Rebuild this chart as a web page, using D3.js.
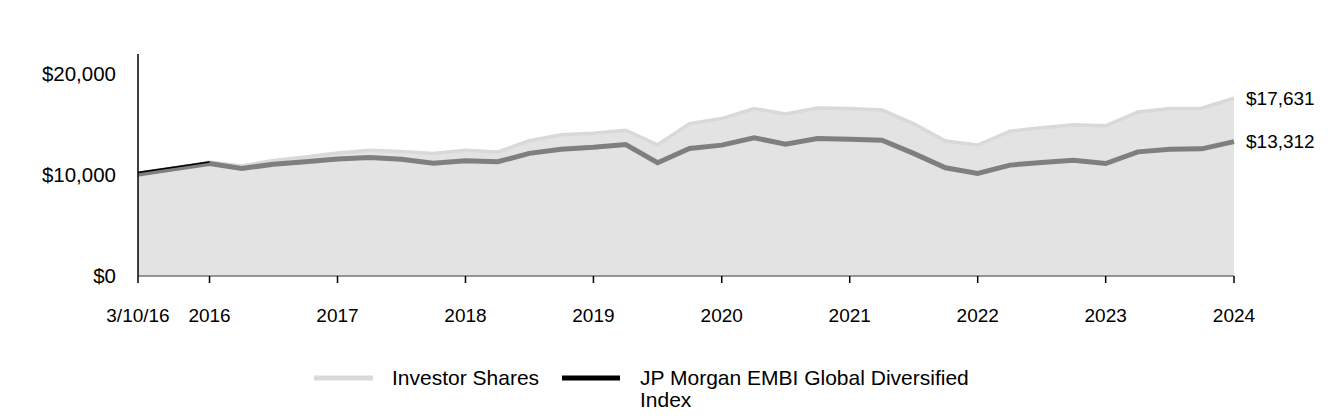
<!DOCTYPE html>
<html>
<head>
<meta charset="utf-8">
<script src="https://cdn.jsdelivr.net/npm/d3@7"></script>
<style>
  html, body { margin: 0; padding: 0; background: #fff; }
  svg { display: block; font-family: "Liberation Sans", Arial, sans-serif; }
</style>
</head>
<body>
<svg id="chart" width="1344" height="420"></svg>
<script>
// ---- data ----
const dates = ["2016-03-10","2016-09-30","2016-12-31","2017-03-31","2017-06-30","2017-09-30",
  "2017-12-31","2018-03-31","2018-06-30","2018-09-30","2018-12-31","2019-03-31","2019-06-30",
  "2019-09-30","2019-12-31","2020-03-31","2020-06-30","2020-09-30","2020-12-31","2021-03-31",
  "2021-06-30","2021-09-30","2021-12-31","2022-03-31","2022-06-30","2022-09-30","2022-12-31",
  "2023-03-31","2023-06-30","2023-09-30","2023-12-31","2024-03-31","2024-06-30","2024-09-30"];
const investorShares = [9900,11300,10900,11450,11800,12200,12450,12350,12150,12450,12300,13400,14000,
  14150,14450,13000,15100,15600,16600,16050,16650,16600,16450,15100,13370,12980,14350,
  14700,15000,14880,16250,16600,16620,17631];
const indexValues = [10100,11150,10650,11080,11320,11600,11750,11580,11170,11410,11320,12150,12570,
  12750,13030,11220,12640,12970,13700,13070,13620,13540,13460,12150,10720,10170,10990,
  11250,11480,11150,12300,12560,12600,13312];
const tickDates = ["2016-03-10","2016-09-30","2017-09-30","2018-09-30","2019-09-30","2020-09-30",
  "2021-09-30","2022-09-30","2023-09-30","2024-09-30"];
const tickLabels = ["3/10/16","2016","2017","2018","2019","2020","2021","2022","2023","2024"];
const yTicks = [0, 10000, 20000];
const seriesNames = ["Investor Shares", "JP Morgan EMBI Global Diversified Index"];
const endLabels = ["$17,631", "$13,312"];

// ---- layout ----
const svg = d3.select("#chart");
const parse = d3.timeParse("%Y-%m-%d");
const xDates = dates.map(parse);
const margin = {left: 138, right: 110, top: 54, bottom: 144};
const W = 1344, H = 420;

const x = d3.scaleTime()
  .domain([xDates[0], xDates[xDates.length - 1]])
  .range([margin.left, W - margin.right]);
const y = d3.scaleLinear().domain([0, 22000]).range([H - margin.bottom, margin.top]);

const inv = xDates.map((d, i) => ({d, v: investorShares[i]}));
const idx = xDates.map((d, i) => ({d, v: indexValues[i]}));

// area for investor shares
svg.append("path")
  .datum(inv)
  .attr("fill", "#e3e3e3")
  .attr("d", d3.area().x(p => x(p.d)).y0(y(0)).y1(p => y(p.v)));

svg.append("path")
  .datum(inv)
  .attr("fill", "none")
  .attr("stroke", "#d9d9d9")
  .attr("stroke-width", 3.5)
  .attr("d", d3.line().x(p => x(p.d)).y(p => y(p.v)));

// index line
svg.append("path")
  .datum(idx)
  .attr("fill", "none")
  .attr("stroke", "#7f7f7f")
  .attr("stroke-width", 5)
  .attr("d", d3.line().x(p => x(p.d)).y(p => y(p.v)));

// thin black start segment of index
svg.append("path")
  .datum(idx.slice(0, 2))
  .attr("fill", "none")
  .attr("stroke", "#000")
  .attr("stroke-width", 1.5)
  .attr("transform", "translate(0,-1.5)")
  .attr("d", d3.line().x(p => x(p.d)).y(p => y(p.v)));

// x axis
const xAxis = svg.append("g").attr("transform", `translate(0,${y(0)})`);
xAxis.append("line")
  .attr("x1", x(xDates[0])).attr("x2", x(xDates[xDates.length - 1]))
  .attr("stroke", "#767676").attr("stroke-width", 1.5);
xAxis.selectAll(".tick")
  .data(tickDates.map(parse))
  .join("line")
  .attr("x1", d => x(d)).attr("x2", d => x(d))
  .attr("y1", 0).attr("y2", 7)
  .attr("stroke", "#000").attr("stroke-width", 1.5);
xAxis.selectAll("text")
  .data(tickDates.map(parse))
  .join("text")
  .attr("x", d => x(d))
  .attr("y", 46)
  .attr("text-anchor", "middle")
  .attr("font-size", 19)
  .attr("fill", "#000")
  .text((d, i) => tickLabels[i]);

// y axis
svg.append("line")
  .attr("x1", margin.left).attr("x2", margin.left)
  .attr("y1", margin.top).attr("y2", y(0))
  .attr("stroke", "#000").attr("stroke-width", 1.5);
svg.selectAll(".ylab")
  .data(yTicks)
  .join("text")
  .attr("class", "ylab")
  .attr("x", 116)
  .attr("y", d => y(d))
  .attr("dy", "0.35em")
  .attr("text-anchor", "end")
  .attr("font-size", 20.5)
  .attr("fill", "#000")
  .text(d => "$" + d3.format(",")(d));

// end labels
const lastD = xDates[xDates.length - 1];
svg.append("text")
  .attr("x", x(lastD) + 12).attr("y", y(investorShares[investorShares.length - 1]))
  .attr("dy", "0.35em").attr("font-size", 19).attr("fill", "#000").text(endLabels[0]);
svg.append("text")
  .attr("x", x(lastD) + 12).attr("y", y(indexValues[indexValues.length - 1]))
  .attr("dy", "0.35em").attr("font-size", 19).attr("fill", "#000").text(endLabels[1]);

// legend
const lg = svg.append("g");
lg.append("line").attr("x1", 314).attr("x2", 373).attr("y1", 378).attr("y2", 378)
  .attr("stroke", "#d9d9d9").attr("stroke-width", 5);
lg.append("text").attr("x", 392).attr("y", 385).attr("font-size", 21).attr("fill", "#000")
  .text(seriesNames[0]);
lg.append("line").attr("x1", 562).attr("x2", 620).attr("y1", 378).attr("y2", 378)
  .attr("stroke", "#000").attr("stroke-width", 5);
const t2 = lg.append("text").attr("x", 640).attr("y", 385).attr("font-size", 21).attr("fill", "#000");
t2.append("tspan").attr("x", 640).text("JP Morgan EMBI Global Diversified");
t2.append("tspan").attr("x", 640).attr("dy", 22).text("Index");
</script>
</body>
</html>
